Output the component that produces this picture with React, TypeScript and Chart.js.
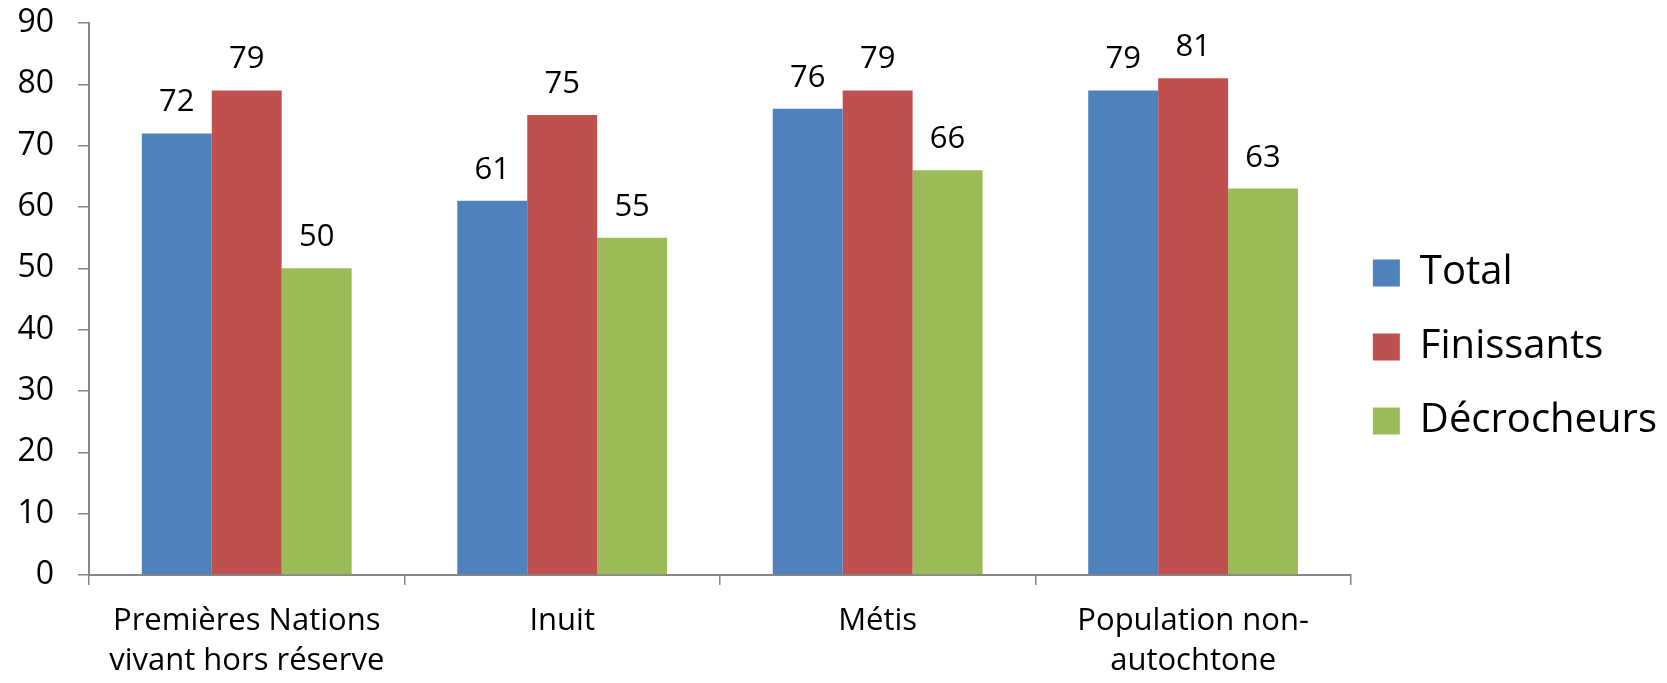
import React, { useEffect, useRef } from "react";
import { Chart, registerables } from "chart.js";

Chart.register(...registerables);

const categories: string[][] = [
  ["Premières Nations", "vivant hors réserve"],
  ["Inuit"],
  ["Métis"],
  ["Population non-", "autochtone"],
];
const seriesNames = ["Total", "Finissants", "Décrocheurs"];
const totalValues = [72, 61, 76, 79];
const finissantsValues = [79, 75, 79, 81];
const decrocheursValues = [50, 55, 66, 63];
const seriesColors = ["#4F81BD", "#C0504D", "#9BBB59"];
const yTicks = [0, 10, 20, 30, 40, 50, 60, 70, 80, 90];

const FONT = "'Open Sans', 'Noto Sans', sans-serif";
const AXIS_COLOR = "#868686";

const valueLabels = {
  id: "valueLabels",
  afterDatasetsDraw(chart: any) {
    const ctx = chart.ctx;
    ctx.save();
    ctx.font = `31px ${FONT}`;
    ctx.fillStyle = "#000";
    ctx.textAlign = "center";
    ctx.textBaseline = "alphabetic";
    chart.data.datasets.forEach((ds: any, di: number) => {
      const meta = chart.getDatasetMeta(di);
      meta.data.forEach((el: any, i: number) => {
        ctx.fillText(String(ds.data[i]), el.x, el.y - 22);
      });
    });
    ctx.restore();
  },
};

export default function App() {
  const ref = useRef<HTMLCanvasElement>(null);
  useEffect(() => {
    if (!ref.current) return;
    const values = [totalValues, finissantsValues, decrocheursValues];
    const chart = new Chart(ref.current, {
      type: "bar",
      data: {
        labels: categories,
        datasets: seriesNames.map((name, i) => ({
          label: name,
          data: values[i],
          backgroundColor: seriesColors[i],
          borderWidth: 0,
          categoryPercentage: 0.665,
          barPercentage: 1,
        })),
      },
      options: {
        responsive: false,
        animation: false,
        layout: { padding: { top: 23, left: 0, right: 0, bottom: 0 } },
        plugins: {
          tooltip: { enabled: false },
          legend: {
            position: "right",
            align: "center",
            labels: {
              boxWidth: 27,
              boxHeight: 27,
              padding: 22,
              color: "#000",
              font: { family: FONT, size: 40, lineHeight: 1.3 },
              generateLabels: (c: any) =>
                (Chart.defaults.plugins.legend.labels.generateLabels as any)(c).map((it: any) => ({
                  ...it,
                  text: [it.text],
                  lineWidth: 0,
                  strokeStyle: "rgba(0,0,0,0)",
                })),
            },
          },
        },
        scales: {
          x: {
            grid: {
              offset: true,
              drawOnChartArea: false,
              drawTicks: true,
              tickLength: 10,
              color: AXIS_COLOR,
              lineWidth: 1.5,
            },
            border: { display: true, color: AXIS_COLOR, width: 2 },
            ticks: {
              color: "#000",
              font: { family: FONT, size: 31, lineHeight: 1.3 },
              padding: 16,
              maxRotation: 0,
              autoSkip: false,
            },
            afterFit: (s: any) => {
              s.height = 108;
            },
          },
          y: {
            min: 0,
            max: 90,
            afterBuildTicks: (s: any) => {
              s.ticks = yTicks.map((v) => ({ value: v }));
            },
            grid: {
              drawOnChartArea: false,
              drawTicks: true,
              tickLength: 11,
              color: AXIS_COLOR,
              lineWidth: 1.5,
            },
            border: { display: true, color: AXIS_COLOR, width: 2 },
            ticks: {
              color: "#000",
              font: { family: FONT, size: 32, lineHeight: 1.2 },
              padding: 24,
            },
            afterFit: (s: any) => {
              s.width = 89;
              s.paddingTop = 0;
              s.paddingBottom = 0;
            },
          },
        },
      },
      plugins: [valueLabels],
    });
    return () => chart.destroy();
  }, []);
  return (
    <div style={{ position: "absolute", left: 0, top: 0, width: 1667, height: 683, background: "#fff" }}>
      <canvas ref={ref} width={1667} height={683} style={{ display: "block" }} />
    </div>
  );
}
